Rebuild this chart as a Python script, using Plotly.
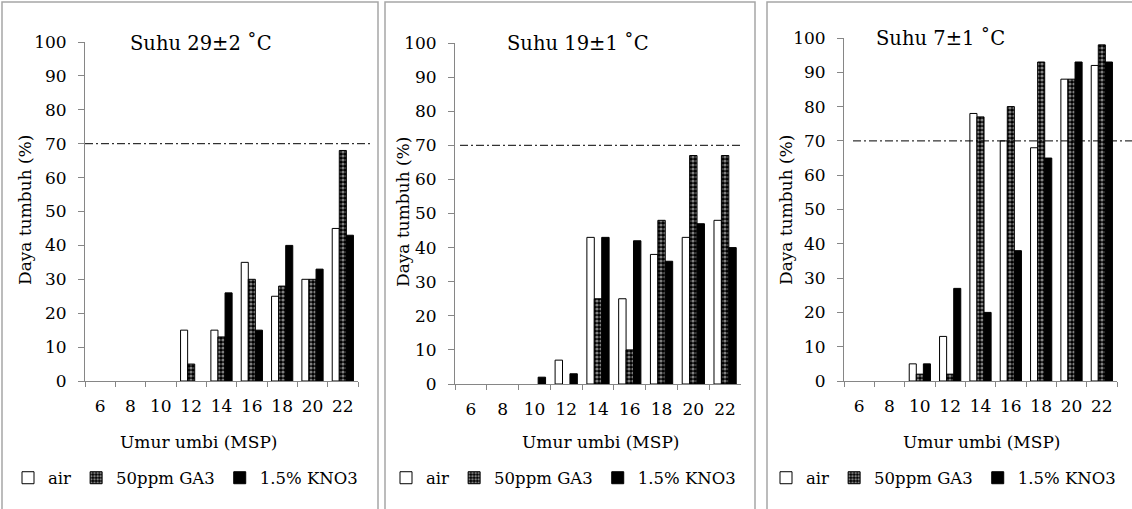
import plotly.graph_objects as go

categories = ["6", "8", "10", "12", "14", "16", "18", "20", "22"]
series_names = ["air", "50ppm GA3", "1.5% KNO3"]
panel_titles = ["Suhu 29±2 ˚C", "Suhu 19±1 ˚C", "Suhu 7±1 ˚C"]
y_ticks = [0, 10, 20, 30, 40, 50, 60, 70, 80, 90, 100]
thresholds = [70, 70, 70]

air_29 = [0, 0, 0, 15, 15, 35, 25, 30, 45]
ga3_29 = [0, 0, 0, 5, 13, 30, 28, 30, 68]
kno3_29 = [0, 0, 0, 0, 26, 15, 40, 33, 43]

air_19 = [0, 0, 0, 7, 43, 25, 38, 43, 48]
ga3_19 = [0, 0, 0, 0, 25, 10, 48, 67, 67]
kno3_19 = [0, 0, 2, 3, 43, 42, 36, 47, 40]

air_7 = [0, 0, 5, 13, 78, 70, 68, 88, 92]
ga3_7 = [0, 0, 2, 2, 77, 80, 93, 88, 98]
kno3_7 = [0, 0, 5, 27, 20, 38, 65, 93, 93]

panels = [(air_29, ga3_29, kno3_29), (air_19, ga3_19, kno3_19), (air_7, ga3_7, kno3_7)]

W, H = 1132, 509
FONT = "DejaVu Serif"

def px_x(v):
    return v / W

def px_y(v):
    return (H - v) / H

# pixel geometry of each panel: (x_left, x_right, y_zero, y_100)
geom = [(85, 358, 381, 42), (455, 741, 384, 43), (844, 1117, 381, 38)]
frames = [(2, 378), (385, 755), (767, 1140)]
title_pos = [(128, 43), (505, 43), (874, 38)]
ytitle_x = [25, 403, 786]
ytitle_y = [210, 212, 210]
xtitle_x = [198, 600, 981]
legend_x = [8, 386, 766]
thr_x = [(85, 370), (460, 740), (853, 1132)]

fills = ["white", "white", "black"]
patterns = [None,
            dict(shape=".", size=4, solidity=0.5, fgcolor="white", bgcolor="black"),
            None]

fig = go.Figure()
layout = dict(
    width=W, height=H, margin=dict(l=0, r=0, t=0, b=0, autoexpand=False),
    paper_bgcolor="white", plot_bgcolor="white",
    bargap=0.3, bargroupgap=0, barmode="group",
    font=dict(family=FONT, size=17, color="black"),
    shapes=[], annotations=[],
)

for i, (vals, (xl, xr, y0p, y100p)) in enumerate(zip(panels, geom)):
    sfx = "" if i == 0 else str(i + 1)
    leg = "legend" if i == 0 else "legend" + str(i + 1)
    for name, v, fc, pat in zip(series_names, vals, fills, patterns):
        marker = dict(color=fc, line=dict(color="black", width=1))
        if pat is not None:
            marker["pattern"] = pat
        # zero values have no visible bar in the reference
        fig.add_trace(go.Bar(
            x=categories, y=[val if val > 0 else None for val in v], name=name, marker=marker,
            xaxis="x" + sfx, yaxis="y" + sfx, legend=leg,
        ))
    layout["xaxis" + sfx] = dict(
        domain=[px_x(xl), px_x(xr)], anchor="y" + sfx, type="category",
        categoryorder="array", categoryarray=categories, range=[-0.5, len(categories) - 0.5],
        showline=True, linecolor="#868686", linewidth=1,
        ticks="outside", tickson="boundaries", ticklen=5, tickcolor="#868686",
        showgrid=False, zeroline=False, ticklabelstandoff=10, tickangle=0,
        tickfont=dict(family=FONT, size=17),
    )
    layout["yaxis" + sfx] = dict(
        domain=[px_y(y0p), px_y(y100p)], anchor="x" + sfx, range=[0, 100],
        tickvals=y_ticks, showline=True, linecolor="#868686", linewidth=1,
        ticks="outside", ticklen=6, tickcolor="#868686",
        showgrid=False, zeroline=False, ticklabelstandoff=8,
        tickfont=dict(family=FONT, size=17),
    )
    layout[leg] = dict(
        orientation="h", x=px_x(legend_x[i]), y=px_y(478), xanchor="left", yanchor="middle",
        bgcolor="rgba(0,0,0,0)", font=dict(family=FONT, size=16.5),
        itemwidth=30, tracegroupgap=0,
    )
    fx0, fx1 = frames[i]
    layout["shapes"].append(dict(type="rect", xref="paper", yref="paper",
                                 x0=px_x(fx0), x1=px_x(fx1), y0=-0.05, y1=px_y(2),
                                 line=dict(color="#a6a6a6", width=1.5), layer="below"))
    tx0, tx1 = thr_x[i]
    layout["shapes"].append(dict(type="line", xref="paper", yref="y" + sfx,
                                 x0=px_x(tx0), x1=px_x(tx1), y0=thresholds[i], y1=thresholds[i],
                                 line=dict(color="black", width=1, dash="8px,3px,2px,3px")))
    tx, ty = title_pos[i]
    layout["annotations"].append(dict(text=panel_titles[i], xref="paper", yref="paper",
                                      x=px_x(tx), y=px_y(ty), xanchor="left", yanchor="middle",
                                      showarrow=False, font=dict(family=FONT, size=19.5)))
    layout["annotations"].append(dict(text="Daya tumbuh (%)", xref="paper", yref="paper",
                                      x=px_x(ytitle_x[i]), y=px_y(ytitle_y[i]), xanchor="center",
                                      yanchor="middle", textangle=-90, showarrow=False,
                                      font=dict(family=FONT, size=17)))
    layout["annotations"].append(dict(text="Umur umbi (MSP)", xref="paper", yref="paper",
                                      x=px_x(xtitle_x[i]), y=px_y(442), xanchor="center", yanchor="middle",
                                      showarrow=False, font=dict(family=FONT, size=17)))

fig.update_layout(**layout)
fig.write_html("out.html", config={"displayModeBar": False},
               post_script="document.body.style.margin='0';document.body.style.overflow='hidden';")
